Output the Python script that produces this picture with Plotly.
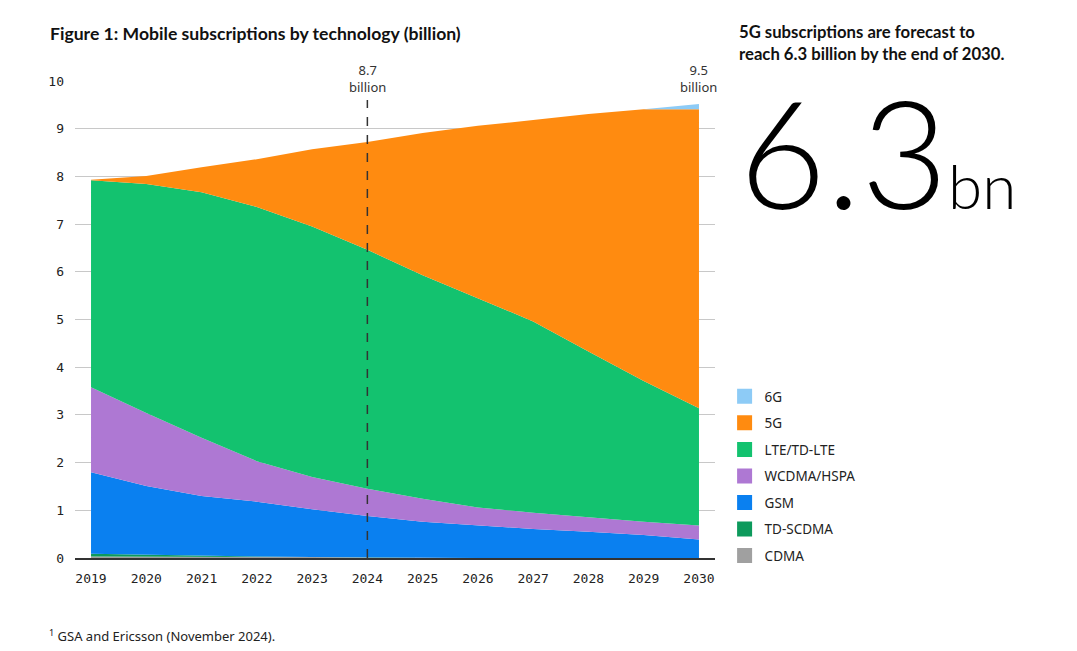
"""Mobile subscriptions by technology, 2019-2030 (billion)."""

import plotly.graph_objects as go

# --- data (billion subscriptions) ---
years = list(range(2019, 2031))
cdma = [0.03, 0.03, 0.02, 0.02, 0.02, 0.01, 0.01, 0.0, 0.0, 0.0, 0.0, 0.0]
td_scdma = [0.06, 0.04, 0.02, 0.01, 0.0, 0.0, 0.0, 0.0, 0.0, 0.0, 0.0, 0.0]
gsm = [1.71, 1.44, 1.26, 1.15, 1.00, 0.87, 0.75, 0.68, 0.61, 0.55, 0.48, 0.39]
wcdma = [1.78, 1.53, 1.22, 0.85, 0.68, 0.57, 0.48, 0.38, 0.34, 0.30, 0.28, 0.29]
lte = [4.34, 4.80, 5.15, 5.33, 5.25, 5.01, 4.69, 4.38, 4.01, 3.48, 2.95, 2.46]
five_g = [0.01, 0.17, 0.52, 1.00, 1.62, 2.26, 2.98, 3.62, 4.22, 4.98, 5.70, 6.27]
six_g = [0.0] * 11 + [0.11]

series_names = ["CDMA", "TD-SCDMA", "GSM", "WCDMA/HSPA", "LTE/TD-LTE", "5G", "6G"]
series_values = [cdma, td_scdma, gsm, wcdma, lte, five_g, six_g]
series_colors = ["#a0a0a0", "#0d9a5c", "#0a80f0", "#ae78d3", "#13c26f", "#ff8b10", "#8dcbf6"]

marker_year = 2024
totals = [round(sum(v), 2) for v in zip(*series_values)]

TITLE_FONT = "Lato, 'Noto Sans', sans-serif"
TEXT_FONT = "'Noto Sans', Lato, sans-serif"
MONO_FONT = "'DejaVu Sans Mono', monospace"

# page has an 8px body margin, so the figure is drawn 8px in from the corner
W, H = 1061, 635

fig = go.Figure()

# stacked areas, bottom (CDMA) to top (6G)
for name, vals, color in zip(series_names, series_values, series_colors):
    fig.add_trace(go.Scatter(
        x=years, y=vals,
        mode="lines",
        stackgroup="subs",
        line=dict(width=0, color=color),
        fillcolor=color,
        name=name,
        showlegend=False,
        hovertemplate="%{x}: %{y:.2f} bn<extra>" + name + "</extra>",
    ))

# square swatches for the legend, top of the stack listed first
for name, color in zip(reversed(series_names), reversed(series_colors)):
    fig.add_trace(go.Scatter(
        x=[None], y=[None],
        mode="markers",
        marker=dict(symbol="square", size=15, color=color),
        name=name,
        legendgroup=name,
    ))

# dashed divider at the current year
fig.add_shape(
    type="line", xref="x", yref="y",
    x0=marker_year, x1=marker_year, y0=0, y1=9.6,
    line=dict(color="#333333", width=1.5, dash="dash"),
)

# total labels above the plot (paper y so they are not clipped)
for yr in (marker_year, years[-1]):
    fig.add_annotation(
        x=yr, y=1.006, xref="x", yref="paper",
        text=f"{totals[years.index(yr)]:.1f}<br>billion",
        showarrow=False, yanchor="middle", align="center",
        bgcolor="white", borderpad=2,
        font=dict(family=TEXT_FONT, size=13, color="#333333"),
    )

# right-hand callout
fig.add_annotation(
    x=1.034, y=1.128, xref="paper", yref="paper",
    xanchor="left", yanchor="top", align="left", showarrow=False,
    text="<b>5G subscriptions are forecast to<br>reach 6.3 billion by the end of 2030.</b>",
    font=dict(family=TITLE_FONT, size=16.7, color="#111111"),
)
fig.add_annotation(
    x=1.034, y=0.66, xref="paper", yref="paper",
    xanchor="left", yanchor="bottom", align="left", showarrow=False,
    text=f"{five_g[-1]:.1f}<span style='font-size:62px'>bn</span>",
    font=dict(family=TITLE_FONT, size=150, color="#000000", weight=300),
)

# footnote
fig.add_annotation(
    x=-0.042, y=-0.162, xref="paper", yref="paper",
    xanchor="left", yanchor="middle", showarrow=False, borderpad=0,
    text="<sup>1</sup> GSA and Ericsson (November 2024).",
    font=dict(family=TEXT_FONT, size=13, color="#222222"),
)

fig.update_layout(
    width=W, height=H,
    margin=dict(l=67, r=354, t=73, b=85),
    paper_bgcolor="white",
    plot_bgcolor="white",
    title=dict(
        text="<b>Figure 1: Mobile subscriptions by technology (billion)</b>",
        x=42 / W, xref="container", xanchor="left",
        y=1 - 26 / H, yref="container", yanchor="middle",
        font=dict(family=TITLE_FONT, size=17.6, color="#111111"),
    ),
    xaxis=dict(
        range=[2018.71, 2030.29],
        tickmode="array", tickvals=years, ticktext=[str(y) for y in years],
        showgrid=False, zeroline=False,
        showline=True, linecolor="#333333", linewidth=1.5,
        ticks="", ticklabelstandoff=8,
        tickfont=dict(family=MONO_FONT, size=13, color="#222222"),
    ),
    yaxis=dict(
        range=[0, 10], dtick=1,
        showgrid=True, gridcolor="#c8c8c8", gridwidth=1,
        zeroline=False, showline=False,
        ticks="", ticklabelstandoff=10,
        tickfont=dict(family=MONO_FONT, size=13, color="#222222"),
    ),
    legend=dict(
        x=1.015, y=0.371, xanchor="left", yanchor="top",
        traceorder="grouped", tracegroupgap=6,
        font=dict(family=TEXT_FONT, size=13.5, color="#222222"),
        bgcolor="rgba(0,0,0,0)",
    ),
    showlegend=True,
    hovermode="closest",
)

fig.write_html("out.html")
